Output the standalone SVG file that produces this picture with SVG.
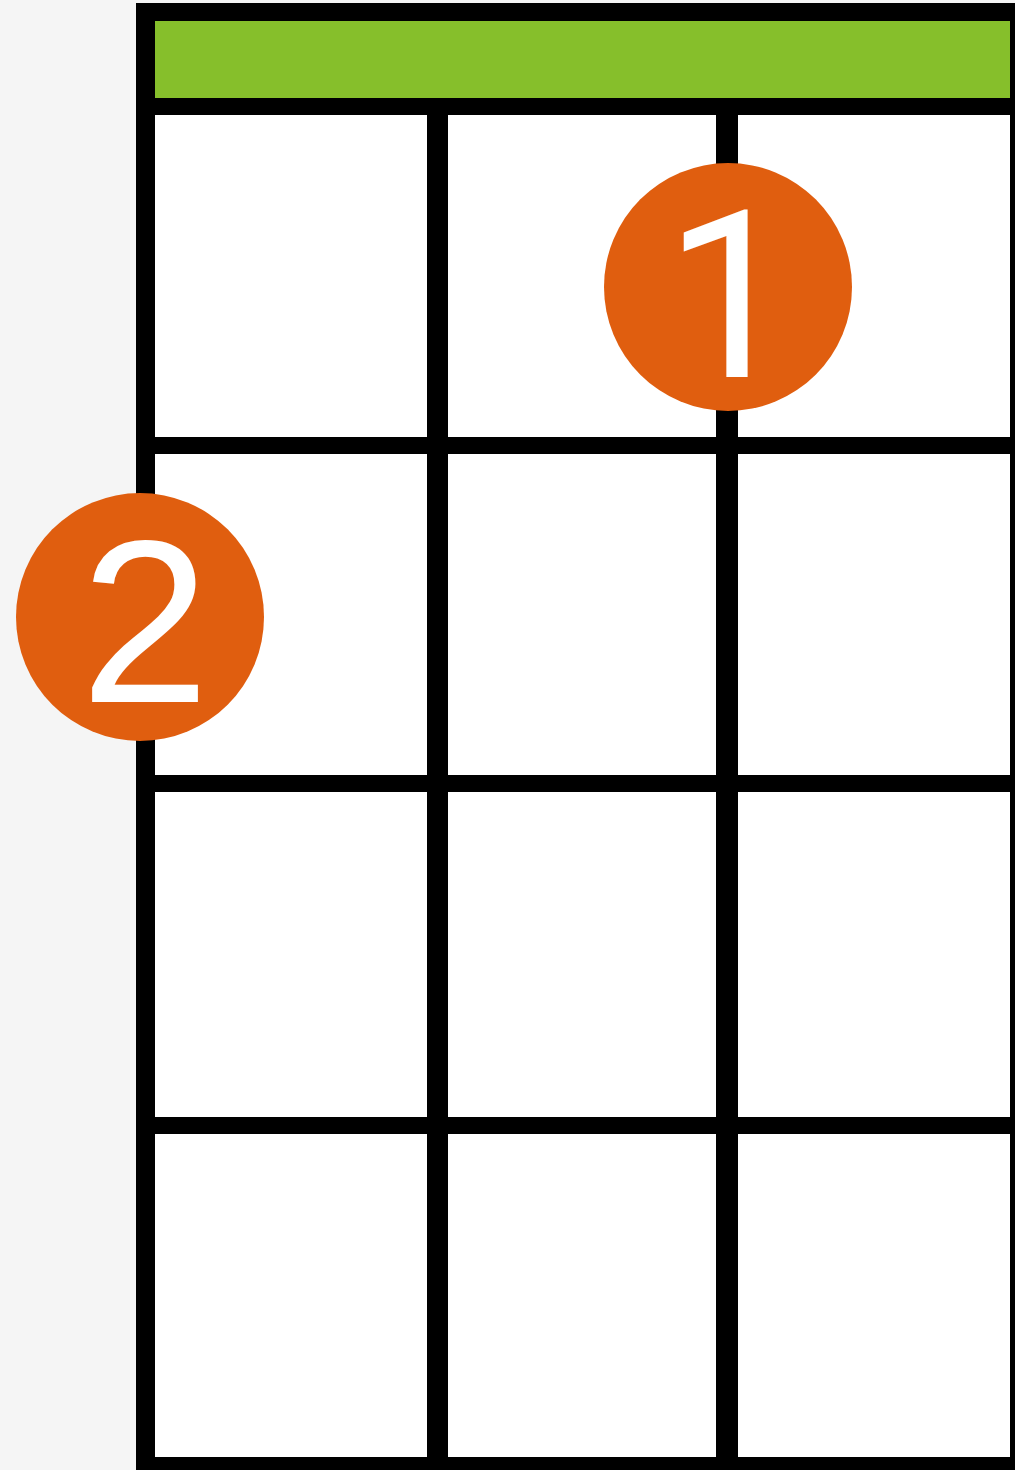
<svg xmlns="http://www.w3.org/2000/svg" width="1015" height="1470" viewBox="0 0 1015 1470">
  <style>
    .cell { fill: #ffffff; }
    .dot { fill: #e05e0f; }
    .num { fill: #ffffff; font-family: "Liberation Sans", Arial, sans-serif; font-size: 232px; text-anchor: middle; }
    .num1 { font-family: Roboto, "Liberation Sans", Arial, sans-serif; font-size: 234px; }
  </style>
  <rect x="0" y="0" width="1015" height="1470" fill="#f5f5f5"/>
  <g id="fretboard">
    <rect x="136" y="3" width="900" height="1480" fill="#000000"/>
    <rect x="155" y="21" width="855" height="77" fill="#86bf2b"/>
    <rect class="cell" x="155" y="115" width="272" height="322"/>
    <rect class="cell" x="448" y="115" width="268" height="322"/>
    <rect class="cell" x="738" y="115" width="272" height="322"/>
    <rect class="cell" x="155" y="454" width="272" height="321"/>
    <rect class="cell" x="448" y="454" width="268" height="321"/>
    <rect class="cell" x="738" y="454" width="272" height="321"/>
    <rect class="cell" x="155" y="792" width="272" height="325"/>
    <rect class="cell" x="448" y="792" width="268" height="325"/>
    <rect class="cell" x="738" y="792" width="272" height="325"/>
    <rect class="cell" x="155" y="1134" width="272" height="323"/>
    <rect class="cell" x="448" y="1134" width="268" height="323"/>
    <rect class="cell" x="738" y="1134" width="272" height="323"/>
  </g>
  <g id="connectors"></g>
  <g id="finger1">
    <circle class="dot" cx="728" cy="287" r="124"/>
    <text class="num num1" x="730" y="377">1</text>
  </g>
  <g id="finger2">
    <circle class="dot" cx="140" cy="617" r="124"/>
    <text class="num" x="145" y="702">2</text>
  </g>
</svg>
